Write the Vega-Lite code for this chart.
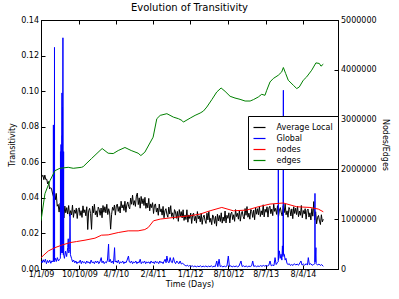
{
  "$schema": "https://vega.github.io/schema/vega-lite/v6.json",
  "width": 297,
  "height": 249,
  "autosize": "none",
  "padding": {"left": 41, "top": 20, "right": 61, "bottom": 30},
  "background": "white",
  "title": {"text": "Evolution of Transitivity", "fontSize": 10, "font": "DejaVu Sans", "fontWeight": "normal", "offset": 3, "color": "black"},
  "config": {
    "view": {"stroke": "black", "strokeWidth": 1},
    "font": "DejaVu Sans",
    "axis": {"labelFont": "DejaVu Sans", "titleFont": "DejaVu Sans", "labelFontSize": 8, "titleFontSize": 8, "titleFontWeight": "normal", "labelColor": "black", "titleColor": "black", "domainColor": "black", "tickColor": "black", "grid": false, "tickSize": -4, "labelPadding": 6.5},
    "legend": {"orient": "none", "legendX": 207, "legendY": 96, "padding": 4.5, "strokeColor": "black", "fillColor": "white", "symbolType": "stroke", "symbolStrokeWidth": 1.2, "symbolSize": 144, "labelFontSize": 8, "labelFont": "DejaVu Sans", "labelColor": "black", "rowPadding": 0, "labelOffset": 10, "cornerRadius": 0}
  },
  "datasets": {
    "avg": [
      {"day":0,"value":0.0547},{"day":7,"value":0.0520},{"day":14,"value":0.0527},{"day":21,"value":0.0502},{"day":28,"value":0.0528},{"day":35,"value":0.0503},{"day":42,"value":0.0505},{"day":49,"value":0.0478},{"day":56,"value":0.0492},{"day":63,"value":0.0450},
      {"day":70,"value":0.0457},{"day":77,"value":0.0453},{"day":84,"value":0.0427},{"day":91,"value":0.0408},{"day":98,"value":0.0440},{"day":105,"value":0.0389},{"day":112,"value":0.0425},{"day":119,"value":0.0353},{"day":126,"value":0.0363},{"day":133,"value":0.0320},
      {"day":140,"value":0.0369},{"day":147,"value":0.0352},{"day":154,"value":0.0311},{"day":161,"value":0.0346},{"day":168,"value":0.0287},{"day":175,"value":0.0354},{"day":182,"value":0.0316},{"day":189,"value":0.0345},{"day":196,"value":0.0309},{"day":203,"value":0.0357},
      {"day":210,"value":0.0297},{"day":217,"value":0.0328},{"day":224,"value":0.0304},{"day":231,"value":0.0359},{"day":238,"value":0.0290},{"day":245,"value":0.0332},{"day":252,"value":0.0313},{"day":259,"value":0.0342},{"day":266,"value":0.0284},{"day":273,"value":0.0334},
      {"day":280,"value":0.0344},{"day":287,"value":0.0301},{"day":294,"value":0.0328},{"day":301,"value":0.0290},{"day":308,"value":0.0355},{"day":315,"value":0.0316},{"day":322,"value":0.0333},{"day":329,"value":0.0299},{"day":336,"value":0.0350},{"day":343,"value":0.0222},
      {"day":350,"value":0.0327},{"day":357,"value":0.0341},{"day":364,"value":0.0311},{"day":371,"value":0.0223},{"day":378,"value":0.0354},{"day":385,"value":0.0316},{"day":392,"value":0.0364},{"day":399,"value":0.0305},{"day":406,"value":0.0327},{"day":413,"value":0.0292},
      {"day":420,"value":0.0348},{"day":427,"value":0.0336},{"day":434,"value":0.0302},{"day":441,"value":0.0343},{"day":448,"value":0.0288},{"day":455,"value":0.0357},{"day":462,"value":0.0319},{"day":469,"value":0.0350},{"day":476,"value":0.0316},{"day":483,"value":0.0364},
      {"day":490,"value":0.0306},{"day":497,"value":0.0339},{"day":504,"value":0.0315},{"day":511,"value":0.0224},{"day":518,"value":0.0305},{"day":525,"value":0.0347},{"day":532,"value":0.0330},{"day":539,"value":0.0360},{"day":546,"value":0.0303},{"day":553,"value":0.0355},
      {"day":560,"value":0.0365},{"day":567,"value":0.0324},{"day":574,"value":0.0351},{"day":581,"value":0.0315},{"day":588,"value":0.0381},{"day":595,"value":0.0343},{"day":602,"value":0.0361},{"day":609,"value":0.0329},{"day":616,"value":0.0381},{"day":623,"value":0.0319},
      {"day":630,"value":0.0361},{"day":637,"value":0.0377},{"day":644,"value":0.0350},{"day":651,"value":0.0338},{"day":658,"value":0.0399},{"day":665,"value":0.0364},{"day":672,"value":0.0415},{"day":679,"value":0.0359},{"day":686,"value":0.0384},{"day":693,"value":0.0352},
      {"day":700,"value":0.0410},{"day":707,"value":0.0427},{"day":714,"value":0.0362},{"day":721,"value":0.0400},{"day":728,"value":0.0342},{"day":735,"value":0.0408},{"day":742,"value":0.0367},{"day":749,"value":0.0395},{"day":756,"value":0.0357},{"day":763,"value":0.0403},
      {"day":770,"value":0.0341},{"day":777,"value":0.0371},{"day":784,"value":0.0344},{"day":791,"value":0.0397},{"day":798,"value":0.0327},{"day":805,"value":0.0366},{"day":812,"value":0.0345},{"day":819,"value":0.0373},{"day":826,"value":0.0312},{"day":833,"value":0.0359},
      {"day":840,"value":0.0366},{"day":847,"value":0.0320},{"day":854,"value":0.0343},{"day":861,"value":0.0302},{"day":868,"value":0.0365},{"day":875,"value":0.0322},{"day":882,"value":0.0338},{"day":889,"value":0.0303},{"day":896,"value":0.0352},{"day":903,"value":0.0288},
      {"day":910,"value":0.0327},{"day":917,"value":0.0339},{"day":924,"value":0.0308},{"day":931,"value":0.0291},{"day":938,"value":0.0348},{"day":945,"value":0.0309},{"day":952,"value":0.0356},{"day":959,"value":0.0295},{"day":966,"value":0.0316},{"day":973,"value":0.0280},
      {"day":980,"value":0.0334},{"day":987,"value":0.0321},{"day":994,"value":0.0285},{"day":1001,"value":0.0324},{"day":1008,"value":0.0268},{"day":1015,"value":0.0334},{"day":1022,"value":0.0295},{"day":1029,"value":0.0323},{"day":1036,"value":0.0287},{"day":1043,"value":0.0333},
      {"day":1050,"value":0.0273},{"day":1057,"value":0.0304},{"day":1064,"value":0.0278},{"day":1071,"value":0.0333},{"day":1078,"value":0.0263},{"day":1085,"value":0.0304},{"day":1092,"value":0.0284},{"day":1099,"value":0.0314},{"day":1106,"value":0.0256},{"day":1113,"value":0.0305},
      {"day":1120,"value":0.0314},{"day":1127,"value":0.0271},{"day":1134,"value":0.0296},{"day":1141,"value":0.0258},{"day":1148,"value":0.0323},{"day":1155,"value":0.0282},{"day":1162,"value":0.0299},{"day":1169,"value":0.0265},{"day":1176,"value":0.0314},{"day":1183,"value":0.0251},
      {"day":1190,"value":0.0291},{"day":1197,"value":0.0303},{"day":1204,"value":0.0273},{"day":1211,"value":0.0256},{"day":1218,"value":0.0314},{"day":1225,"value":0.0276},{"day":1232,"value":0.0323},{"day":1239,"value":0.0263},{"day":1246,"value":0.0285},{"day":1253,"value":0.0249},
      {"day":1260,"value":0.0304},{"day":1267,"value":0.0292},{"day":1274,"value":0.0256},{"day":1281,"value":0.0296},{"day":1288,"value":0.0241},{"day":1295,"value":0.0308},{"day":1302,"value":0.0270},{"day":1309,"value":0.0301},{"day":1316,"value":0.0267},{"day":1323,"value":0.0316},
      {"day":1330,"value":0.0258},{"day":1337,"value":0.0292},{"day":1344,"value":0.0269},{"day":1351,"value":0.0326},{"day":1358,"value":0.0259},{"day":1365,"value":0.0302},{"day":1372,"value":0.0285},{"day":1379,"value":0.0316},{"day":1386,"value":0.0259},{"day":1393,"value":0.0310},
      {"day":1400,"value":0.0320},{"day":1407,"value":0.0278},{"day":1414,"value":0.0305},{"day":1421,"value":0.0268},{"day":1428,"value":0.0334},{"day":1435,"value":0.0295},{"day":1442,"value":0.0313},{"day":1449,"value":0.0280},{"day":1456,"value":0.0331},{"day":1463,"value":0.0269},
      {"day":1470,"value":0.0310},{"day":1477,"value":0.0324},{"day":1484,"value":0.0295},{"day":1491,"value":0.0281},{"day":1498,"value":0.0340},{"day":1505,"value":0.0302},{"day":1512,"value":0.0351},{"day":1519,"value":0.0291},{"day":1526,"value":0.0314},{"day":1533,"value":0.0280},
      {"day":1540,"value":0.0335},{"day":1547,"value":0.0324},{"day":1554,"value":0.0290},{"day":1561,"value":0.0331},{"day":1568,"value":0.0277},{"day":1575,"value":0.0345},{"day":1582,"value":0.0308},{"day":1589,"value":0.0339},{"day":1596,"value":0.0305},{"day":1603,"value":0.0353},
      {"day":1610,"value":0.0295},{"day":1617,"value":0.0327},{"day":1624,"value":0.0304},{"day":1631,"value":0.0361},{"day":1638,"value":0.0293},{"day":1645,"value":0.0336},{"day":1652,"value":0.0319},{"day":1659,"value":0.0350},{"day":1666,"value":0.0292},{"day":1673,"value":0.0343},
      {"day":1680,"value":0.0353},{"day":1687,"value":0.0311},{"day":1694,"value":0.0337},{"day":1701,"value":0.0300},{"day":1708,"value":0.0365},{"day":1715,"value":0.0324},{"day":1722,"value":0.0341},{"day":1729,"value":0.0307},{"day":1736,"value":0.0356},{"day":1743,"value":0.0293},
      {"day":1750,"value":0.0332},{"day":1757,"value":0.0345},{"day":1764,"value":0.0315},{"day":1771,"value":0.0298},{"day":1778,"value":0.0356},{"day":1785,"value":0.0317},{"day":1792,"value":0.0365},{"day":1799,"value":0.0305},{"day":1806,"value":0.0327},{"day":1813,"value":0.0291},
      {"day":1820,"value":0.0346},{"day":1827,"value":0.0334},{"day":1834,"value":0.0298},{"day":1841,"value":0.0338},{"day":1848,"value":0.0283},{"day":1855,"value":0.0350},{"day":1862,"value":0.0312},{"day":1869,"value":0.0342},{"day":1876,"value":0.0306},{"day":1883,"value":0.0354},
      {"day":1890,"value":0.0294},{"day":1897,"value":0.0326},{"day":1904,"value":0.0302},{"day":1911,"value":0.0357},{"day":1918,"value":0.0288},{"day":1925,"value":0.0329},{"day":1932,"value":0.0310},{"day":1939,"value":0.0339},{"day":1946,"value":0.0280},{"day":1953,"value":0.0329},
      {"day":1960,"value":0.0337},{"day":1967,"value":0.0292},{"day":1974,"value":0.0316},{"day":1981,"value":0.0276},{"day":1988,"value":0.0340},{"day":1995,"value":0.0297},{"day":2002,"value":0.0379},{"day":2009,"value":0.0275},{"day":2016,"value":0.0322},{"day":2023,"value":0.0254},
      {"day":2030,"value":0.0291},{"day":2037,"value":0.0301},{"day":2044,"value":0.0269},{"day":2051,"value":0.0250},{"day":2058,"value":0.0305},{"day":2065,"value":0.0265},{"day":2072,"value":0.0280}
    ],
    "glob": [
      {"day":0,"value":0.0045},{"day":8,"value":0.0035},{"day":16,"value":0.0052},{"day":24,"value":0.0038},{"day":32,"value":0.0055},{"day":40,"value":0.0030},{"day":48,"value":0.0048},{"day":56,"value":0.0036},{"day":64,"value":0.0050},{"day":72,"value":0.0032},
      {"day":80,"value":0.0046},{"day":88,"value":0.0040},{"day":90,"value":0.0042},{"day":91,"value":0.081},{"day":92,"value":0.0045},{"day":98,"value":0.0040},{"day":99,"value":0.1246},{"day":100,"value":0.0050},{"day":106,"value":0.0060},{"day":112,"value":0.0042},
      {"day":120,"value":0.0064},{"day":128,"value":0.0045},{"day":136,"value":0.0055},{"day":142,"value":0.0060},{"day":143,"value":0.066},{"day":144,"value":0.0080},{"day":147,"value":0.070},{"day":148,"value":0.0090},{"day":150,"value":0.060},{"day":151,"value":0.012},
      {"day":154,"value":0.099},{"day":155,"value":0.010},{"day":156,"value":0.075},{"day":157,"value":0.009},{"day":158,"value":0.091},{"day":159,"value":0.012},{"day":161,"value":0.130},{"day":162,"value":0.010},{"day":163,"value":0.050},{"day":164,"value":0.008},
      {"day":166,"value":0.066},{"day":167,"value":0.008},{"day":172,"value":0.006},{"day":180,"value":0.010},{"day":188,"value":0.007},{"day":196,"value":0.012},{"day":200,"value":0.017},{"day":204,"value":0.009},{"day":210,"value":0.011},{"day":213,"value":0.031},
      {"day":216,"value":0.008},{"day":224,"value":0.006},{"day":232,"value":0.004},{"day":240,"value":0.005},{"day":248,"value":0.0035},{"day":256,"value":0.0045},{"day":264,"value":0.003},{"day":272,"value":0.004},{"day":280,"value":0.0035},{"day":288,"value":0.005},
      {"day":296,"value":0.003},{"day":304,"value":0.0045},{"day":312,"value":0.0035},{"day":320,"value":0.004},{"day":328,"value":0.003},{"day":336,"value":0.0045},{"day":344,"value":0.0035},{"day":352,"value":0.004},{"day":360,"value":0.003},{"day":368,"value":0.005},
      {"day":376,"value":0.0035},{"day":384,"value":0.004},{"day":392,"value":0.003},{"day":400,"value":0.0045},{"day":408,"value":0.0035},{"day":416,"value":0.0045},{"day":424,"value":0.003},{"day":432,"value":0.004},{"day":442,"value":0.0064},{"day":448,"value":0.0035},
      {"day":456,"value":0.0045},{"day":464,"value":0.003},{"day":472,"value":0.004},{"day":480,"value":0.0035},{"day":488,"value":0.005},{"day":496,"value":0.014},{"day":500,"value":0.004},{"day":508,"value":0.0055},{"day":516,"value":0.0035},{"day":524,"value":0.0045},
      {"day":532,"value":0.003},{"day":540,"value":0.012},{"day":544,"value":0.004},{"day":552,"value":0.0045},{"day":560,"value":0.0035},{"day":568,"value":0.005},{"day":576,"value":0.003},{"day":584,"value":0.004},{"day":592,"value":0.0035},{"day":600,"value":0.0045},
      {"day":608,"value":0.003},{"day":616,"value":0.004},{"day":624,"value":0.0035},{"day":632,"value":0.005},{"day":642,"value":0.0073},{"day":648,"value":0.004},{"day":656,"value":0.0035},{"day":664,"value":0.0045},{"day":672,"value":0.003},{"day":680,"value":0.004},
      {"day":688,"value":0.0035},{"day":696,"value":0.0045},{"day":704,"value":0.003},{"day":712,"value":0.004},{"day":720,"value":0.0035},{"day":728,"value":0.0055},{"day":736,"value":0.003},{"day":744,"value":0.004},{"day":752,"value":0.0035},{"day":760,"value":0.0045},
      {"day":768,"value":0.003},{"day":776,"value":0.004},{"day":784,"value":0.0035},{"day":792,"value":0.004},{"day":800,"value":0.003},{"day":808,"value":0.0045},{"day":816,"value":0.0035},{"day":824,"value":0.004},{"day":832,"value":0.003},{"day":840,"value":0.0045},
      {"day":848,"value":0.0035},{"day":856,"value":0.004},{"day":864,"value":0.003},{"day":872,"value":0.0045},{"day":880,"value":0.0035},{"day":888,"value":0.004},{"day":896,"value":0.003},{"day":904,"value":0.0045},{"day":911,"value":0.0055},{"day":918,"value":0.0035},
      {"day":924,"value":0.0073},{"day":932,"value":0.004},{"day":940,"value":0.0035},{"day":948,"value":0.0064},{"day":956,"value":0.004},{"day":964,"value":0.0035},{"day":972,"value":0.0064},{"day":980,"value":0.004},{"day":988,"value":0.003},{"day":997,"value":0.0045},
      {"day":1005,"value":0.0035},{"day":1013,"value":0.003},{"day":1021,"value":0.0045},{"day":1030,"value":0.0028},{"day":1040,"value":0.0032},{"day":1050,"value":0.0025},{"day":1058,"value":0.002},{"day":1066,"value":0.0017},{"day":1074,"value":0.0022},{"day":1082,"value":0.0015},
      {"day":1090,"value":0.0019},{"day":1100,"value":0.0014},{"day":1110,"value":0.0018},{"day":1120,"value":0.0013},{"day":1130,"value":0.0017},{"day":1140,"value":0.0012},{"day":1150,"value":0.0016},{"day":1160,"value":0.0013},{"day":1170,"value":0.0018},{"day":1180,"value":0.0012},
      {"day":1190,"value":0.0016},{"day":1200,"value":0.0013},{"day":1210,"value":0.0017},{"day":1220,"value":0.0012},{"day":1230,"value":0.0016},{"day":1240,"value":0.0013},{"day":1250,"value":0.0018},{"day":1260,"value":0.0012},{"day":1270,"value":0.0016},{"day":1280,"value":0.0014},
      {"day":1290,"value":0.0045},{"day":1298,"value":0.0013},{"day":1307,"value":0.0055},{"day":1315,"value":0.0014},{"day":1325,"value":0.0017},{"day":1335,"value":0.0012},{"day":1345,"value":0.0016},{"day":1355,"value":0.0013},{"day":1365,"value":0.0017},{"day":1375,"value":0.0073},
      {"day":1383,"value":0.0014},{"day":1393,"value":0.0018},{"day":1403,"value":0.0012},{"day":1413,"value":0.0016},{"day":1423,"value":0.0013},{"day":1433,"value":0.0017},{"day":1443,"value":0.0012},{"day":1453,"value":0.0016},{"day":1468,"value":0.0045},{"day":1476,"value":0.0014},
      {"day":1486,"value":0.0018},{"day":1496,"value":0.0013},{"day":1506,"value":0.0017},{"day":1516,"value":0.0012},{"day":1526,"value":0.0016},{"day":1536,"value":0.0014},{"day":1546,"value":0.0018},{"day":1554,"value":0.0045},{"day":1562,"value":0.0014},{"day":1572,"value":0.0018},
      {"day":1582,"value":0.0013},{"day":1592,"value":0.0017},{"day":1602,"value":0.0014},{"day":1612,"value":0.0019},{"day":1622,"value":0.0015},{"day":1632,"value":0.002},{"day":1642,"value":0.0016},{"day":1652,"value":0.002},{"day":1662,"value":0.0017},{"day":1672,"value":0.0021},
      {"day":1681,"value":0.0045},{"day":1690,"value":0.0018},{"day":1700,"value":0.0022},{"day":1710,"value":0.0019},{"day":1718,"value":0.0064},{"day":1726,"value":0.0025},{"day":1734,"value":0.0035},{"day":1741,"value":0.004},{"day":1742,"value":0.075},{"day":1743,"value":0.005},
      {"day":1750,"value":0.0102},{"day":1756,"value":0.006},{"day":1762,"value":0.0083},{"day":1768,"value":0.005},{"day":1772,"value":0.013},{"day":1776,"value":0.007},{"day":1779,"value":0.1005},{"day":1780,"value":0.008},{"day":1786,"value":0.0083},{"day":1792,"value":0.005},
      {"day":1798,"value":0.006},{"day":1806,"value":0.003},{"day":1814,"value":0.0025},{"day":1822,"value":0.003},{"day":1830,"value":0.002},{"day":1840,"value":0.0025},{"day":1850,"value":0.002},{"day":1860,"value":0.003},{"day":1870,"value":0.0022},{"day":1880,"value":0.0028},
      {"day":1890,"value":0.0021},{"day":1901,"value":0.0035},{"day":1908,"value":0.0045},{"day":1916,"value":0.0022},{"day":1926,"value":0.0028},{"day":1936,"value":0.0021},{"day":1946,"value":0.003},{"day":1956,"value":0.0022},{"day":1962,"value":0.0064},{"day":1970,"value":0.0025},
      {"day":1980,"value":0.003},{"day":1990,"value":0.0021},{"day":2000,"value":0.0025},{"day":2010,"value":0.003},{"day":2011,"value":0.0425},{"day":2012,"value":0.004},{"day":2018,"value":0.012},{"day":2020,"value":0.003},{"day":2030,"value":0.0022},{"day":2040,"value":0.0028},
      {"day":2050,"value":0.002},{"day":2060,"value":0.0025},{"day":2072,"value":0.0015}
    ],
    "nodes": [
      {"day":0,"count":228000},{"day":54,"count":363000},{"day":103,"count":429000},{"day":151,"count":478000},{"day":213,"count":530000},{"day":261,"count":551000},{"day":323,"count":579000},{"day":396,"count":619000},{"day":444,"count":679000},{"day":493,"count":685000},
      {"day":567,"count":732000},{"day":640,"count":766000},{"day":713,"count":766000},{"day":762,"count":792000},{"day":787,"count":833000},{"day":826,"count":968000},{"day":875,"count":1002000},{"day":972,"count":1034000},{"day":1095,"count":1069000},{"day":1168,"count":1103000},
      {"day":1241,"count":1169000},{"day":1327,"count":1236000},{"day":1412,"count":1169000},{"day":1510,"count":1183000},{"day":1595,"count":1250000},{"day":1681,"count":1304000},{"day":1779,"count":1325000},{"day":1877,"count":1250000},{"day":1974,"count":1236000},{"day":2035,"count":1204000},
      {"day":2072,"count":1149000}
    ],
    "edges": [
      {"day":0,"count":967700},{"day":29,"count":1512000},{"day":66,"count":1774000},{"day":103,"count":1976000},{"day":139,"count":2022000},{"day":200,"count":2042000},{"day":237,"count":2022000},{"day":298,"count":2042000},{"day":310,"count":2056000},{"day":371,"count":2218000},
      {"day":433,"count":2379000},{"day":449,"count":2419000},{"day":493,"count":2325000},{"day":530,"count":2318000},{"day":567,"count":2379000},{"day":616,"count":2440000},{"day":662,"count":2379000},{"day":713,"count":2325000},{"day":733,"count":2278000},{"day":762,"count":2345000},
      {"day":823,"count":2647000},{"day":850,"count":3018000},{"day":875,"count":3085000},{"day":924,"count":3119000},{"day":972,"count":3050000},{"day":1009,"count":3018000},{"day":1034,"count":2984000},{"day":1045,"count":2950000},{"day":1095,"count":3030000},{"day":1131,"count":3085000},
      {"day":1168,"count":3131000},{"day":1192,"count":3171000},{"day":1217,"count":3252000},{"day":1254,"count":3401000},{"day":1290,"count":3554000},{"day":1322,"count":3635000},{"day":1351,"count":3568000},{"day":1388,"count":3468000},{"day":1424,"count":3433000},{"day":1461,"count":3407000},
      {"day":1498,"count":3373000},{"day":1535,"count":3373000},{"day":1559,"count":3401000},{"day":1595,"count":3454000},{"day":1620,"count":3508000},{"day":1644,"count":3488000},{"day":1657,"count":3589000},{"day":1681,"count":3756000},{"day":1705,"count":3825000},{"day":1742,"count":3891000},
      {"day":1767,"count":3958000},{"day":1779,"count":4046000},{"day":1796,"count":3925000},{"day":1815,"count":3790000},{"day":1852,"count":3690000},{"day":1877,"count":3623000},{"day":1896,"count":3655000},{"day":1925,"count":3790000},{"day":1950,"count":3857000},{"day":1987,"count":3992000},
      {"day":2018,"count":4139000},{"day":2043,"count":4127000},{"day":2055,"count":4073000},{"day":2072,"count":4113000}
    ]
  },
  "layer": [
    {
      "encoding": {
        "x": {"field": "day", "type": "quantitative", "scale": {"domain": [0, 2180], "nice": false, "zero": false},
              "axis": {"title": "Time (Days)", "titlePadding": 2, "labelPadding": 5.5, "values": [0, 282, 549, 822, 1095, 1376, 1649, 1923],
                       "labelExpr": "['1/1/09','10/10/09','4/7/10','2/4/11','1/1/12','8/10/12','8/7/13','8/4/14'][indexof([0,282,549,822,1095,1376,1649,1923], datum.value)]",
                       "labelFlush": false, "labelOverlap": false}},
        "y": {"field": "value", "type": "quantitative", "scale": {"domain": [0, 0.14], "nice": false, "zero": true},
              "axis": {"title": "Transitivity", "values": [0, 0.02, 0.04, 0.06, 0.08, 0.1, 0.12, 0.14], "format": ".2f", "titlePadding": 4, "labelFlush": false}}
      },
      "layer": [
        {"data": {"name": "avg"}, "mark": {"type": "line", "strokeWidth": 1, "clip": true}, "encoding": {"color": {"datum": "Average Local"}}},
        {"data": {"name": "glob"}, "mark": {"type": "line", "strokeWidth": 1, "clip": true}, "encoding": {"color": {"datum": "Global"}}}
      ]
    },
    {
      "encoding": {
        "x": {"field": "day", "type": "quantitative", "scale": {"domain": [0, 2180], "nice": false, "zero": false},
              "axis": {"orient": "top", "title": null, "labels": false, "values": [0, 282, 549, 822, 1095, 1376, 1649, 1923]}},
        "y": {"field": "count", "type": "quantitative", "scale": {"domain": [0, 5000000], "nice": false, "zero": true},
              "axis": {"orient": "right", "title": "Nodes/Edges", "values": [0, 1000000, 2000000, 3000000, 4000000, 5000000], "format": "d", "titlePadding": 4, "labelFlush": false}}
      },
      "layer": [
        {"data": {"name": "nodes"}, "mark": {"type": "line", "strokeWidth": 1, "clip": true}, "encoding": {"color": {"datum": "nodes"}}},
        {"data": {"name": "edges"}, "mark": {"type": "line", "strokeWidth": 1, "clip": true}, "encoding": {"color": {"datum": "edges"}}}
      ]
    }
  ],
  "encoding": {
    "color": {"type": "nominal", "scale": {"domain": ["Average Local", "Global", "nodes", "edges"], "range": ["black", "blue", "red", "green"]}, "legend": {"title": null}}
  },
  "resolve": {"scale": {"y": "independent"}, "axis": {"x": "independent"}}
}
